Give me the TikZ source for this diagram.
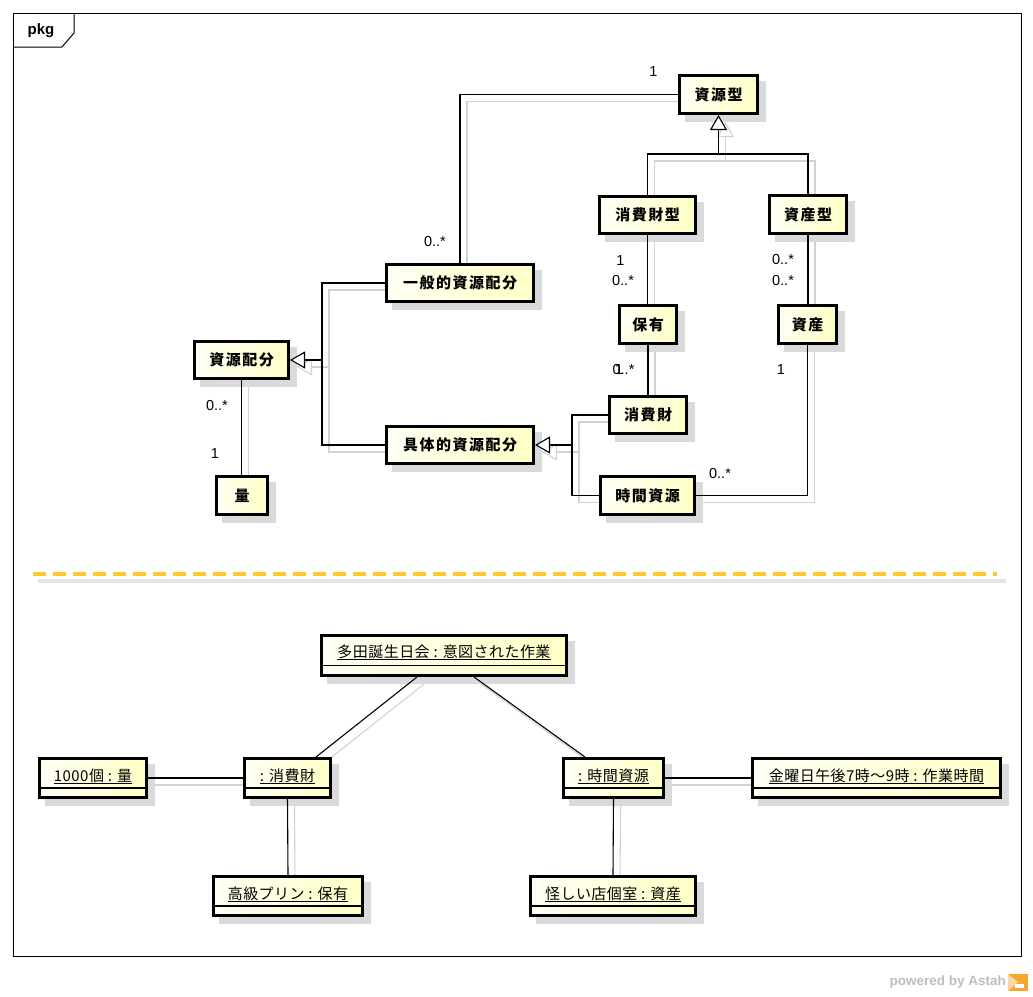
\documentclass[tikz,border=0pt]{standalone}
\usepackage{fontspec}
\usetikzlibrary{arrows.meta,shadows}
\newfontfamily\jp[LetterSpace=3]{Noto Sans CJK JP}
\newfontfamily\jpb[LetterSpace=10]{Noto Sans CJK JP}
\newfontfamily\lib{Liberation Sans}
\definecolor{fillA}{HTML}{FFFFF4}
\definecolor{fillB}{HTML}{FFFFC6}
\definecolor{shd}{HTML}{DADADA}
\definecolor{shl}{HTML}{D2D2D2}
\definecolor{dashc}{HTML}{FFC82E}
\definecolor{dashs}{HTML}{E4E4E4}
\definecolor{astahgray}{HTML}{BDBDBD}
\definecolor{logoA}{HTML}{F7A531}
\definecolor{logoB}{HTML}{FCD9A0}
\pgfdeclarelayer{background}
\pgfsetlayers{background,main}
\tikzset{
  boxbase/.style={draw=black, line width=3pt, left color=fillA, right color=fillB, inner sep=0pt,
    general shadow={fill=shd, draw=shd, line width=3pt, shadow xshift=7pt, shadow yshift=-7pt}},
  cls/.style={boxbase, font=\jpb\bfseries\fontsize{15}{18}\selectfont},
  obj/.style={boxbase},
  objtext/.style={anchor=base, inner sep=0pt, font=\jp\fontsize{15}{18}\selectfont},
  mult/.style={inner sep=0pt, font=\lib\fontsize{14.5}{17}\selectfont},
  cline/.style={draw=black, line width=1.1pt},
  shline/.style={draw=shl, line width=1.1pt},
  gen/.style={-{Triangle[length=15pt, width=17pt, fill=white]}},
  comp/.style={draw=black, line width=1.6pt},
}
\newcommand\conn[2][]{%
  \begin{pgfonlayer}{background}\draw[shline,#1,transform canvas={xshift=7pt,yshift=-7pt}] #2;\end{pgfonlayer}%
  \draw[cline,#1] #2;}
\begin{document}
\begin{tikzpicture}[x=1pt,y=-1pt]
\useasboundingbox (0,0) rectangle (1033,996);
% frame
\draw[line width=1pt] (13,13) rectangle (1021,956);
\draw[line width=1pt] (13,47) -- (62,47) -- (74,33) -- (74,13);
\node[inner sep=0pt, font=\lib\bfseries\fontsize{15}{18}\selectfont] (pkg) at (41,31) {pkg};

% class boxes
\node[cls, minimum width=78pt, minimum height=38pt] (sg) at (718.5,94.5) {資源型};
\node[cls, minimum width=96pt, minimum height=37pt] (szg) at (647.5,215) {消費財型};
\node[cls, minimum width=77pt, minimum height=38pt] (sng) at (808,214.5) {資産型};
\node[cls, minimum width=147pt, minimum height=37pt] (ip) at (460,283) {一般的資源配分};
\node[cls, minimum width=94pt, minimum height=37pt] (hb) at (241.5,360) {資源配分};
\node[cls, minimum width=147pt, minimum height=37pt] (gt) at (460,445) {具体的資源配分};
\node[cls, minimum width=51pt, minimum height=38pt] (ry) at (242,495.5) {量};
\node[cls, minimum width=57pt, minimum height=38pt] (hy) at (648,324.5) {保有};
\node[cls, minimum width=58pt, minimum height=38pt] (ss) at (807.5,324.5) {資産};
\node[cls, minimum width=77pt, minimum height=37pt] (sz) at (648,415) {消費財};
\node[cls, minimum width=94pt, minimum height=38pt] (jkc) at (647.5,495.5) {時間資源};

% junctions
\coordinate (j1) at (322,360);
\coordinate (j2) at (718.5,154);
\coordinate (j3) at (572,445);

% class connectors
\conn{(sg.west) -| (ip.north)}
\conn{(hb.south) -- (hb.south |- ry.north)}
\conn[gen]{(ip.west) -| (j1) -- (hb.east)}
\conn{(gt.west) -| (j1)}
\conn[gen]{(szg.north) |- (j2) -- (sg.south)}
\conn{(sng.north) |- (j2)}
\conn[gen]{(sz.west) -| (j3) -- (gt.east)}
\conn{(jkc.west) -| (j3)}
\conn{(szg.south) -- (szg.south |- hy.north)}
\conn{(hy.south) -- (sz.north)}
\conn{(sng.south) -- (sng.south |- ss.north)}
\conn{(ss.south) |- (jkc.east)}

% multiplicities
\node[mult] (m1) at (653.5,71.5) {1};
\node[mult] (m2) at (435,242) {0..*};
\node[mult] (m3) at (620.5,261) {1};
\node[mult] (m4) at (623,281) {0..*};
\node[mult] (m5) at (623.5,370) {0..*};
\node[mult] (m6) at (619,370) {1};
\node[mult] (m7) at (783,260) {0..*};
\node[mult] (m8) at (783,281) {0..*};
\node[mult] (m9) at (781,370) {1};
\node[mult] (m10) at (720,474) {0..*};
\node[mult] (m11) at (217,406) {0..*};
\node[mult] (m12) at (215,454) {1};

% separator
\coordinate (sepA) at (38,581);
\coordinate (sepB) at (1006,581);
\coordinate (sepC) at (33,574);
\coordinate (sepD) at (997,574);
\draw[draw=dashs, line width=4pt] (sepA) -- (sepB);
\draw[draw=dashc, line width=4pt, dash pattern=on 13pt off 7pt] (sepC) -- (sepD);

% object boxes
\node[obj, minimum width=245pt, minimum height=40pt] (tada) at (444,655.5) {};
\node[objtext] (tadat) at (444,657) {\underline{多田誕生日会 : 意図された作業}};
\draw[comp] (tada.west |- 0,665.5) -- (tada.east |- 0,665.5);

\node[obj, minimum width=107pt, minimum height=39pt] (qty) at (93,778) {};
\node[objtext] (qtyt) at (93,781) {\underline{1000個 : 量}};
\draw[comp] (qty.west |- 0,788) -- (qty.east |- 0,788);

\node[obj, minimum width=86pt, minimum height=39pt] (shz) at (287.5,778) {};
\node[objtext] (shzt) at (287.5,781) {\underline{: 消費財}};
\draw[comp] (shz.west |- 0,788) -- (shz.east |- 0,788);

\node[obj, minimum width=149pt, minimum height=39pt] (pur) at (288,896) {};
\node[objtext] (purt) at (288,899) {\underline{高級プリン : 保有}};
\draw[comp] (pur.west |- 0,906) -- (pur.east |- 0,906);

\node[obj, minimum width=100pt, minimum height=39pt] (jko) at (613.5,778) {};
\node[objtext] (jkot) at (613.5,781) {\underline{: 時間資源}};
\draw[comp] (jko.west |- 0,788) -- (jko.east |- 0,788);

\node[obj, minimum width=248pt, minimum height=39pt] (kin) at (876.5,778) {};
\node[objtext] (kint) at (876.5,781) {\underline{金曜日午後7時～9時 : 作業時間}};
\draw[comp] (kin.west |- 0,788) -- (kin.east |- 0,788);

\node[obj, minimum width=165pt, minimum height=39pt] (aya) at (613,896) {};
\node[objtext] (ayat) at (613,899) {\underline{怪しい店個室 : 資産}};
\draw[comp] (aya.west |- 0,906) -- (aya.east |- 0,906);

% object links
\conn{([xshift=-27pt]tada.south) -- ([xshift=28.5pt]shz.north)}
\conn{([xshift=30pt]tada.south) -- ([xshift=-28.5pt]jko.north)}
\conn{(qty.east) -- (shz.west)}
\conn{(shz.south) -- (pur.north)}
\conn{(jko.east) -- (kin.west)}
\conn{(jko.south) -- (aya.north)}

% powered by
\node[anchor=east, inner sep=0pt, text=astahgray, font=\lib\bfseries\fontsize{13.5}{16}\selectfont] (pw) at (1006,982) {powered by Astah};
\fill[logoA] (1008,974) rectangle (1028,991);
\fill[logoB] (1008,974) -- (1018,982) -- (1008,991) -- cycle;
\fill[white] (1015,984) rectangle (1024,988);
\end{tikzpicture}
\end{document}
